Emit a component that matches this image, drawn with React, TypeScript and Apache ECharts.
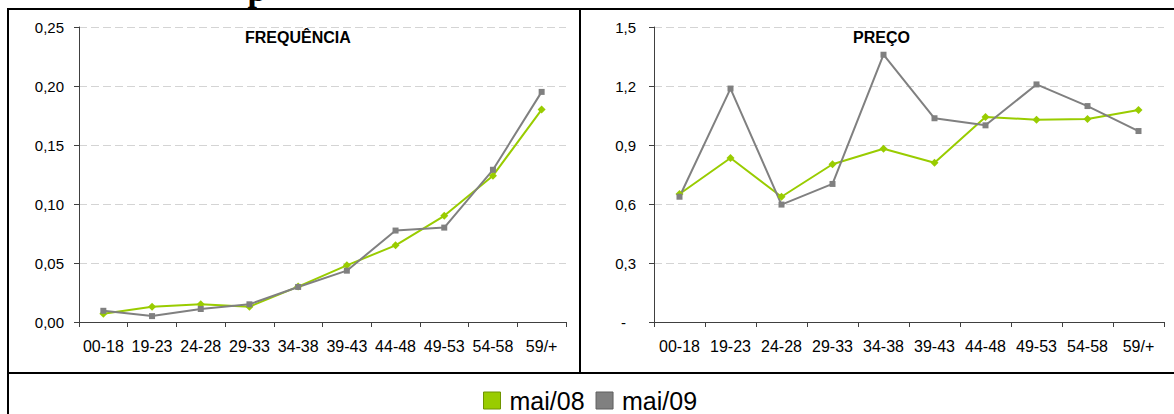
import React, { useEffect, useRef } from "react";
import * as echarts from "echarts";

const categories = ["00-18", "19-23", "24-28", "29-33", "34-38", "39-43", "44-48", "49-53", "54-58", "59/+"];
const freqMai08 = [0.007, 0.013, 0.015, 0.013, 0.030, 0.048, 0.065, 0.090, 0.124, 0.180];
const freqMai09 = [0.0095, 0.005, 0.011, 0.015, 0.0297, 0.0435, 0.0775, 0.080, 0.129, 0.195];
const precoMai08 = [0.651, 0.834, 0.637, 0.802, 0.881, 0.81, 1.042, 1.029, 1.032, 1.078];
const precoMai09 = [0.637, 1.187, 0.597, 0.702, 1.359, 1.036, 1.0, 1.208, 1.098, 0.971];
const seriesNames = ["mai/08", "mai/09"];
const panelTitles = ["FREQUÊNCIA", "PREÇO"];

const GREEN = "#99CC00";
const GRAY = "#808080";
const AXIS = "#404040";
const FONT = '"Liberation Sans", Arial, sans-serif';

export default function App() {
  const ref = useRef<HTMLDivElement>(null);
  useEffect(() => {
    if (!ref.current) return;
    const chart = echarts.init(ref.current, undefined, { renderer: "svg" });
    const xAxisBase = (gridIndex: number) => ({
      type: "category",
      gridIndex,
      data: categories,
      boundaryGap: true,
      axisLine: { show: true, lineStyle: { color: AXIS, width: 1 } },
      axisTick: { show: true, length: 5, interval: 0, lineStyle: { color: AXIS } },
      axisLabel: { interval: 0, fontSize: 16, color: "#000", fontFamily: FONT, margin: 16 },
      splitLine: { show: false },
    });
    const yAxisBase = (gridIndex: number, max: number, interval: number, fmt: (v: number) => string, margin: number) => ({
      type: "value",
      gridIndex,
      min: 0,
      max,
      interval,
      axisLine: { show: true, lineStyle: { color: AXIS, width: 1 } },
      axisTick: { show: true, length: 5, lineStyle: { color: AXIS } },
      axisLabel: {
        fontSize: 15,
        color: "#000",
        fontFamily: FONT,
        margin,
        formatter: fmt,
        rich: { d: { fontSize: 15, color: "#000", fontFamily: FONT, padding: [0, 10, 0, 0] } },
      },
      splitLine: { show: true, lineStyle: { color: "#d4d4d4", type: [8, 4], width: 1 } },
    });
    const lineSeries = (name: string, data: number[], idx: number, color: string, symbol: string, size: number) => ({
      name,
      type: "line",
      xAxisIndex: idx,
      yAxisIndex: idx,
      data,
      symbol,
      symbolSize: size,
      lineStyle: { color, width: 2 },
      itemStyle: { color },
      emphasis: { disabled: true },
    });
    chart.setOption({
      animation: false,
      backgroundColor: "#fff",
      textStyle: { fontFamily: FONT },
      title: [
        { text: panelTitles[0], left: 245, top: 29, padding: 0, textStyle: { fontSize: 16, fontWeight: "bold", color: "#000", fontFamily: FONT } },
        { text: panelTitles[1], left: 853, top: 29, padding: 0, textStyle: { fontSize: 16, fontWeight: "bold", color: "#000", fontFamily: FONT } },
      ],
      legend: {
        data: [
          { name: seriesNames[0], itemStyle: { color: GREEN, borderColor: "#6f9400", borderWidth: 1 } },
          { name: seriesNames[1], itemStyle: { color: GRAY, borderColor: "#5e5e5e", borderWidth: 1 } },
        ],
        left: 483,
        top: 388,
        padding: 0,
        icon: "rect",
        itemWidth: 17,
        itemHeight: 17,
        itemGap: 11,
        textStyle: { fontSize: 25, color: "#000", fontFamily: FONT, padding: [0, 0, 0, 4] },
      },
      grid: [
        { left: 79, top: 27, width: 487, height: 295 },
        { left: 654, top: 27, width: 510, height: 295 },
      ],
      xAxis: [xAxisBase(0), xAxisBase(1)],
      yAxis: [
        yAxisBase(0, 0.25, 0.05, (v: number) => v.toFixed(2).replace(".", ","), 15),
        yAxisBase(1, 1.5, 0.3, (v: number) => (v === 0 ? "{d|-}" : v.toFixed(1).replace(".", ",")), 18),
      ],
      series: [
        lineSeries(seriesNames[0], freqMai08, 0, GREEN, "diamond", 8),
        lineSeries(seriesNames[1], freqMai09, 0, GRAY, "rect", 6),
        lineSeries(seriesNames[0], precoMai08, 1, GREEN, "diamond", 8),
        lineSeries(seriesNames[1], precoMai09, 1, GRAY, "rect", 6),
      ],
      graphic: [
        { type: "rect", silent: true, shape: { x: 7, y: 8, width: 1167, height: 2 }, style: { fill: "#000" } },
        { type: "rect", silent: true, shape: { x: 7, y: 8, width: 2, height: 406 }, style: { fill: "#000" } },
        { type: "rect", silent: true, shape: { x: 579, y: 8, width: 2, height: 365 }, style: { fill: "#000" } },
        { type: "rect", silent: true, shape: { x: 7, y: 372, width: 1167, height: 2 }, style: { fill: "#000" } },
        {
          type: "text",
          silent: true,
          x: 257,
          y: -10.5,
          style: { text: "p", font: 'bold 34px "Liberation Serif", "Times New Roman", serif', fill: "#000", textAlign: "center", textVerticalAlign: "middle" },
        },
      ],
    });
    return () => chart.dispose();
  }, []);
  return <div ref={ref} style={{ position: "absolute", left: 0, top: 0, width: 1174, height: 414 }} />;
}
